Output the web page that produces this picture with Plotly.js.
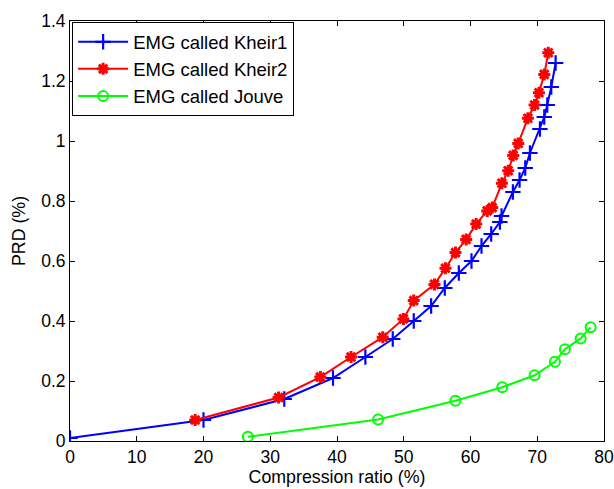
<!DOCTYPE html>
<html>
<head>
<meta charset="utf-8">
<script src="https://cdn.plot.ly/plotly-3.0.1.min.js"></script>
<style>html,body{margin:0;padding:0;background:#fff;}#chart{width:614px;height:489px;}</style>
</head>
<body>
<div id="chart"></div>
<script>
// Series names
const seriesNames = ["EMG called Kheir1", "EMG called Kheir2", "EMG called Jouve"];

// EMG called Kheir1: compression ratio (%) and PRD (%)
const kheir1CR = [0, 20, 32.1, 39.4, 44.25, 48.35, 51.5, 54.1, 56.15, 58.25, 60.15, 61.65, 63.1, 64.4, 64.65, 66.35, 67.35, 68.2, 68.9, 70.4, 71.05, 71.5, 72.1, 72.75];
const kheir1PRD = [0.01, 0.07, 0.14, 0.21, 0.28, 0.34, 0.40, 0.45, 0.51, 0.56, 0.60, 0.65, 0.69, 0.73, 0.75, 0.83, 0.87, 0.91, 0.96, 1.04, 1.08, 1.12, 1.18, 1.26];

// EMG called Kheir2
const kheir2CR = [18.75, 31.25, 37.5, 42.1, 46.85, 49.95, 51.5, 54.6, 56.25, 57.75, 59.35, 60.85, 62.5, 63.25, 64.7, 65.65, 66.4, 67.15, 68.6, 69.6, 70.25, 71.05, 71.65];
const kheir2PRD = [0.07, 0.145, 0.213, 0.28, 0.346, 0.407, 0.468, 0.522, 0.576, 0.628, 0.672, 0.723, 0.767, 0.778, 0.859, 0.901, 0.952, 0.992, 1.076, 1.12, 1.161, 1.222, 1.294];

// EMG called Jouve
const jouveCR = [26.65, 46.15, 57.75, 64.75, 69.6, 72.65, 74.15, 76.5, 78];
const jouvePRD = [0.014, 0.072, 0.134, 0.179, 0.219, 0.264, 0.306, 0.342, 0.379];

// Axis ticks
const xTicks = [0, 10, 20, 30, 40, 50, 60, 70, 80];
const yTicks = [0, 0.2, 0.4, 0.6, 0.8, 1, 1.2, 1.4];
const yTickLabels = ["0", "0.2", "0.4", "0.6", "0.8", "1", "1.2", "1.4"];

const FONT = "Arial, 'Liberation Sans', sans-serif";

const traces = [
  {
    x: kheir1CR, y: kheir1PRD, name: seriesNames[0], type: "scatter", mode: "lines+markers",
    line: {color: "#0000ff", width: 2},
    marker: {symbol: "cross-thin", size: 11, color: "#0000ff", line: {color: "#0000ff", width: 2.2}}
  },
  {
    x: kheir2CR, y: kheir2PRD, name: seriesNames[1], type: "scatter", mode: "lines+markers",
    line: {color: "#ff0000", width: 2},
    marker: {symbol: "asterisk", size: 10, color: "#ff0000", line: {color: "#ff0000", width: 3}}
  },
  {
    x: jouveCR, y: jouvePRD, name: seriesNames[2], type: "scatter", mode: "lines+markers",
    line: {color: "#00ff00", width: 2},
    marker: {symbol: "circle-open", size: 10, color: "#00ff00", line: {color: "#00ff00", width: 2}}
  }
];

const layout = {
  width: 614, height: 489,
  margin: {l: 70, r: 10, t: 21, b: 48, pad: 0},
  paper_bgcolor: "#ffffff", plot_bgcolor: "#ffffff",
  font: {family: FONT, size: 16, color: "#000"},
  showlegend: true,
  legend: {
    x: 0.004, y: 0.997, xanchor: "left", yanchor: "top",
    bgcolor: "#ffffff", bordercolor: "#000", borderwidth: 1,
    font: {family: FONT, size: 18.5, color: "#000"},
    tracegroupgap: 0, itemwidth: 50
  },
  xaxis: {
    range: [0, 80], tickvals: xTicks, ticktext: xTicks.map(String),
    ticks: "inside", ticklen: 5, tickwidth: 1, tickcolor: "#000",
    showline: true, linecolor: "#000", linewidth: 1, mirror: "ticks",
    showgrid: false, zeroline: false,
    tickfont: {family: FONT, size: 17.5, color: "#000"},
    title: {text: "Compression ratio (%)", font: {family: FONT, size: 17.8, color: "#000"}, standoff: 4}
  },
  yaxis: {
    range: [0, 1.4], tickvals: yTicks, ticktext: yTickLabels,
    ticks: "inside", ticklen: 5, tickwidth: 1, tickcolor: "#000",
    showline: true, linecolor: "#000", linewidth: 1, mirror: "ticks",
    showgrid: false, zeroline: false,
    tickfont: {family: FONT, size: 17.5, color: "#000"},
    title: {text: "PRD (%)", font: {family: FONT, size: 17.8, color: "#000"}, standoff: 10}
  }
};

Plotly.newPlot("chart", traces, layout, {displayModeBar: false, staticPlot: true});
</script>
</body>
</html>
